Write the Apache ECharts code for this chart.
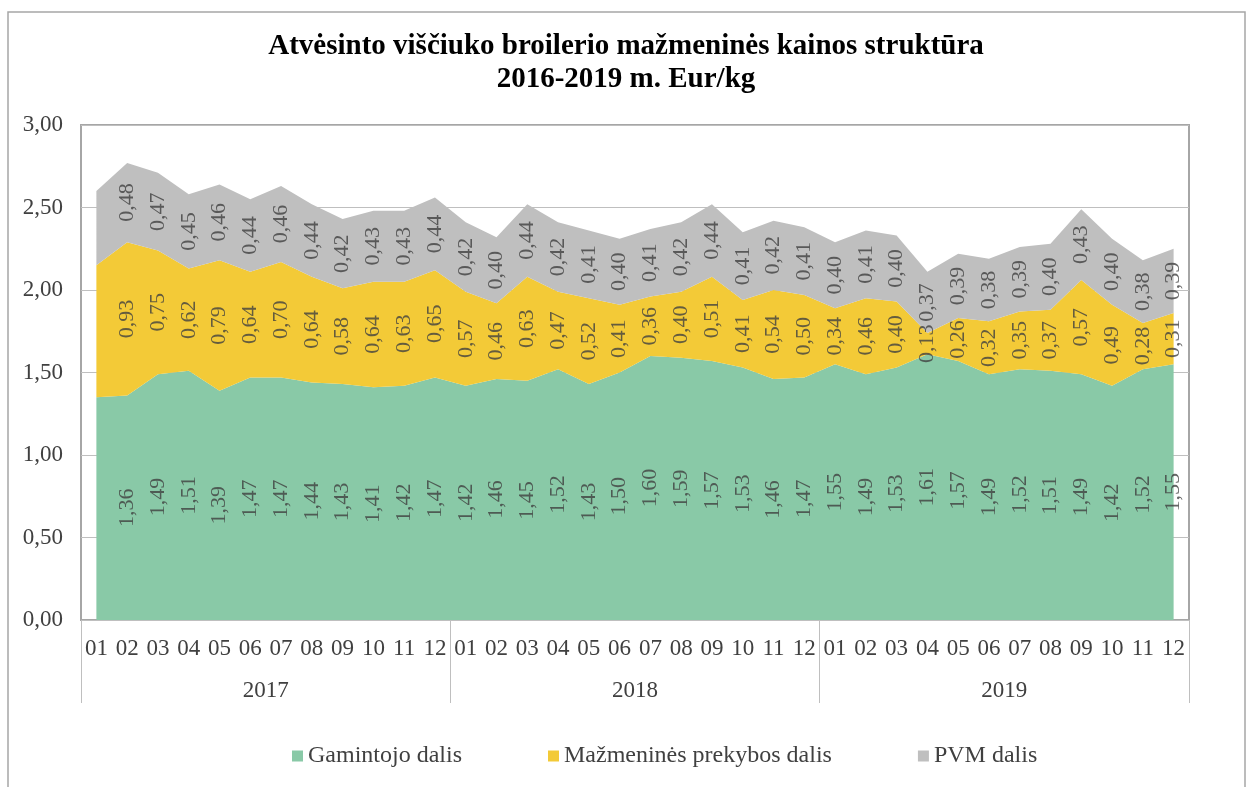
<!DOCTYPE html>
<html>
<head>
<meta charset="utf-8">
<script src="https://cdn.jsdelivr.net/npm/echarts@6/dist/echarts.min.js"></script>
<style>
html,body{margin:0;padding:0;background:#fff;}
#chart{width:1252px;height:787px;}
</style>
</head>
<body>
<div id="chart"></div>
<script>
var months = ['01','02','03','04','05','06','07','08','09','10','11','12',
              '01','02','03','04','05','06','07','08','09','10','11','12',
              '01','02','03','04','05','06','07','08','09','10','11','12'];
var years = ['2017','2018','2019'];
var yTicks = [0, 0.5, 1, 1.5, 2, 2.5, 3];

var producer = [1.35,1.36,1.49,1.51,1.39,1.47,1.47,1.44,1.43,1.41,1.42,1.47,
                1.42,1.46,1.45,1.52,1.43,1.50,1.60,1.59,1.57,1.53,1.46,1.47,
                1.55,1.49,1.53,1.61,1.57,1.49,1.52,1.51,1.49,1.42,1.52,1.55];
var retail   = [0.80,0.93,0.75,0.62,0.79,0.64,0.70,0.64,0.58,0.64,0.63,0.65,
                0.57,0.46,0.63,0.47,0.52,0.41,0.36,0.40,0.51,0.41,0.54,0.50,
                0.34,0.46,0.40,0.13,0.26,0.32,0.35,0.37,0.57,0.49,0.28,0.31];
var vat      = [0.45,0.48,0.47,0.45,0.46,0.44,0.46,0.44,0.42,0.43,0.43,0.44,
                0.42,0.40,0.44,0.42,0.41,0.40,0.41,0.42,0.44,0.41,0.42,0.41,
                0.40,0.41,0.40,0.37,0.39,0.38,0.39,0.40,0.43,0.40,0.38,0.39];
// first point shown without value labels (as in the reference)
var labelFrom = 1;

var names = ['Gamintojo dalis','Mažmeninės prekybos dalis','PVM dalis'];
var colors = ['#89c9a7','#f3ca37','#bfbfbf'];
var seriesData = [producer, retail, vat];

var FONT = '"Liberation Serif","Times New Roman",serif';
var TXT = '#404040';

function fmt(v){ return v.toFixed(2).replace('.', ','); }

var series = [];
seriesData.forEach(function(arr, k){
  series.push({
    name: names[k], type: 'line', stack: 'total', data: arr,
    symbol: 'none', smooth: false,
    lineStyle: {width: 0}, itemStyle: {color: colors[k]},
    areaStyle: {color: colors[k], opacity: 1},
    emphasis: {disabled: true}, z: 2
  });
});
// label helper series: centre of each band, computed from the data via the value axis
seriesData.forEach(function(arr, k){
  var pts = [];
  for (var i = labelFrom; i < arr.length; i++) {
    var base = 0;
    for (var j = 0; j < k; j++) base += seriesData[j][i];
    pts.push({value: [i, base + arr[i] / 2], raw: arr[i]});
  }
  series.push({
    name: names[k] + '_lbl', type: 'scatter', data: pts, symbolSize: 0,
    silent: true, z: 5,
    label: {show: true, position: 'inside', rotate: 90,
      formatter: function(p){ return fmt(p.data.raw); },
      fontFamily: FONT, fontSize: 22, color: TXT}
  });
});

var chart = echarts.init(document.getElementById('chart'), null, {renderer: 'canvas'});
chart.setOption({
  animation: false,
  backgroundColor: '#ffffff',
  title: {
    text: 'Atvėsinto viščiuko broilerio mažmeninės kainos struktūra\n2016-2019 m. Eur/kg',
    left: 'center', top: 25,
    textStyle: {fontFamily: FONT, fontWeight: 'bold', fontSize: 29, lineHeight: 33, color: '#000'}
  },
  graphic: [{
    type: 'rect', shape: {x: 8, y: 12, width: 1237, height: 800},
    style: {fill: 'none', stroke: '#a6a6a6', lineWidth: 1.5}, silent: true, z: -1
  }],
  legend: {
    data: names, top: 739, left: 287, itemGap: 86,
    icon: 'rect', itemWidth: 11, itemHeight: 11,
    textStyle: {fontFamily: FONT, fontSize: 24, color: TXT}
  },
  grid: {left: 81, right: 63, top: 125, bottom: 167, show: true,
         borderColor: '#a6a6a6', borderWidth: 2, containLabel: false},
  xAxis: [{
    type: 'category', data: months, boundaryGap: true,
    axisLine: {show: false}, axisTick: {show: false},
    axisLabel: {interval: 0, margin: 17, fontFamily: FONT, fontSize: 23, color: TXT}
  }, {
    type: 'category', data: years, position: 'bottom', boundaryGap: true,
    axisLine: {show: false},
    axisTick: {show: true, length: 83, lineStyle: {color: '#bfbfbf', width: 1}},
    axisLabel: {interval: 0, margin: 59, fontFamily: FONT, fontSize: 23, color: TXT}
  }],
  yAxis: {
    type: 'value', min: yTicks[0], max: yTicks[yTicks.length - 1], interval: yTicks[1] - yTicks[0],
    axisLine: {show: false}, axisTick: {show: false},
    splitLine: {lineStyle: {color: '#bfbfbf', width: 1}},
    axisLabel: {margin: 18, fontFamily: FONT, fontSize: 23, color: TXT,
      formatter: function(v){ return fmt(v); }}
  },
  series: series
});
</script>
</body>
</html>
